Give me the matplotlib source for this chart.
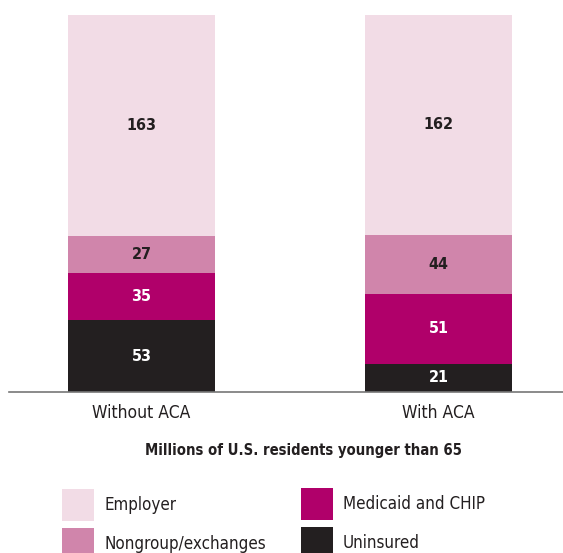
import numpy as np
import matplotlib
matplotlib.use("Agg")
from matplotlib import pyplot as plt
from matplotlib.patches import Rectangle

# Data (millions of U.S. residents younger than 65)
scenarios = ["Without ACA", "With ACA"]
categories = ["Uninsured", "Medicaid and CHIP", "Nongroup/exchanges", "Employer"]
uninsured = [53, 21]
medicaid = [35, 51]
nongroup = [27, 44]
employer = [163, 162]

colors = {"Uninsured": "#231f20", "Medicaid and CHIP": "#b0006a",
          "Nongroup/exchanges": "#d085ab", "Employer": "#f2dce6"}
label_colors = {"Uninsured": "white", "Medicaid and CHIP": "white",
                "Nongroup/exchanges": "#231f20", "Employer": "#231f20"}
dark = "#231f20"

plt.rcParams['font.family'] = ['DejaVu Sans']
plt.rcParams['font.stretch'] = 'condensed'

W, H = 563, 553
fig = plt.figure(figsize=(W / 100, H / 100), dpi=100)
ax = fig.add_axes([9 / W, (H - 392) / H, (W - 9) / W, (392 - 15) / H])

x = np.arange(len(scenarios))
width = 0.495
bottom = np.zeros(len(scenarios))
for cat, vals in zip(categories, [uninsured, medicaid, nongroup, employer]):
    vals = np.array(vals)
    ax.bar(x, vals, width, bottom=bottom, color=colors[cat], linewidth=0)
    for xi, b, v in zip(x, bottom, vals):
        ax.text(xi, b + v / 2, str(v), ha="center", va="center",
                fontsize=11.5, fontweight="bold", color=label_colors[cat])
    bottom += vals

ax.set_xlim((9 - 141.5) / 297, (W - 141.5) / 297)
ax.set_ylim(0, bottom.max())
for s in ["top", "right", "left"]:
    ax.spines[s].set_visible(False)
ax.spines["bottom"].set_color("#777777")
ax.spines["bottom"].set_linewidth(1.2)
ax.set_yticks([])
ax.set_xticks(x)
ax.set_xticklabels(scenarios, fontsize=12.5, color=dark)
ax.tick_params(axis="x", length=0, pad=9)

fig.text(303 / W, 1 - 451 / H, "Millions of U.S. residents younger than 65",
         ha="center", va="center", fontsize=10.6, fontweight="bold", color=dark)

# legend
legend_items = [("Employer", 62, 489), ("Nongroup/exchanges", 62, 528),
                ("Medicaid and CHIP", 301, 488), ("Uninsured", 301, 527)]
for name, px, py in legend_items:
    fig.patches.append(Rectangle((px / W, 1 - (py + 32) / H), 32 / W, 32 / H,
                                 transform=fig.transFigure, color=colors[name],
                                 linewidth=0))
    fig.text((px + 42) / W, 1 - (py + 16) / H, name, ha="left", va="center",
             fontsize=12.2, color=dark)

fig.savefig("out.png", dpi=100)
